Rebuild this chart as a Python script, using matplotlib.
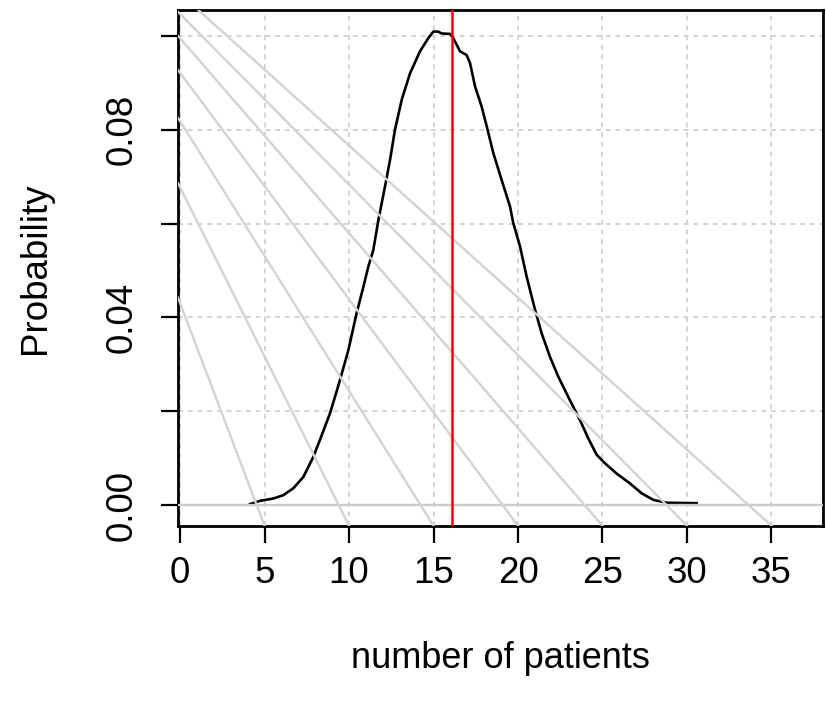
import matplotlib.pyplot as plt
import numpy as np

plt.rcParams['font.family'] = ['Liberation Sans', 'DejaVu Sans']

# distribution of number of patients
n_patients = [4.14, 4.73, 5.52, 6.11, 6.71, 7.30, 7.89, 8.28, 8.88, 9.47,
              9.96, 10.45, 10.85, 11.14, 11.44, 11.74, 12.13, 12.43, 12.72, 13.12,
              13.61, 14.20, 14.69, 14.99, 15.28, 15.48, 15.98, 16.17, 16.57, 16.96,
              17.16, 17.46, 17.85, 18.15, 18.54, 19.03, 19.53, 19.72, 20.12, 20.51,
              21.01, 21.40, 21.89, 22.38, 22.98, 23.67, 24.16, 24.66, 25.15, 25.84,
              26.63, 27.32, 28.01, 28.80, 30.57]
probability = [0.0002, 0.0009, 0.0014, 0.0021, 0.0036, 0.0060, 0.0103, 0.0139, 0.0196, 0.0267,
               0.0330, 0.0409, 0.0465, 0.0508, 0.0544, 0.0608, 0.0679, 0.0736, 0.0800, 0.0864,
               0.0920, 0.0967, 0.0995, 0.1009, 0.1009, 0.1005, 0.1004, 0.0995, 0.0967, 0.0959,
               0.0942, 0.0892, 0.0849, 0.0807, 0.0750, 0.0693, 0.0636, 0.0601, 0.0551, 0.0487,
               0.0416, 0.0366, 0.0316, 0.0274, 0.0230, 0.0181, 0.0142, 0.0107, 0.0089, 0.0067,
               0.0046, 0.0025, 0.0011, 0.0005, 0.0004]
mean_patients = 16.1

# light gray reference lines: where they meet the bottom and the left edge
line_bottom_x = [5, 10, 15, 20, 25, 30, 35]
line_left_y = [0.0442, 0.0686, 0.0825, 0.0927, 0.1000, 0.1051, 0.1094]

x_ticks = [0, 5, 10, 15, 20, 25, 30, 35]
y_ticks = [0.00, 0.02, 0.04, 0.06, 0.08, 0.10]
y_labels = ['0.00', '', '0.04', '', '0.08', '']

xmin, xmax = -0.12, 38.05
ymin, ymax = -0.0044, 0.1055

fig = plt.figure(figsize=(8.26, 7.05), dpi=100)
ax = fig.add_axes([0.2155, 0.2543, 0.7809, 0.7315])
ax.set_xlim(xmin, xmax)
ax.set_ylim(ymin, ymax)

ax.plot(n_patients, probability, color='black', lw=1.9, zorder=2)

for xv in x_ticks:
    ax.axvline(xv, color='#D3D3D3', lw=1.4, ls=(0, (2.5, 2.5)), zorder=1)
for yv in y_ticks:
    ax.axhline(yv, color='#D3D3D3', lw=1.4, ls=(0, (2.5, 2.5)), zorder=1)
ax.axhline(0, color='#CCCCCC', lw=1.7, zorder=3)

for xb, yl in zip(line_bottom_x, line_left_y):
    ax.axline((xb, ymin), (xmin, yl), color='#D3D3D3', lw=1.7, zorder=3)

ax.axvline(mean_patients, color='red', lw=1.8, zorder=4)

ax.set_xticks(x_ticks)
ax.set_xticklabels([str(v) for v in x_ticks])
ax.set_yticks(y_ticks)
ax.set_yticklabels(y_labels, rotation=90, va='center')
ax.tick_params(axis='both', length=12.5, width=1.6, labelsize=26.5, direction='out')
ax.tick_params(axis='x', pad=9)
ax.tick_params(axis='y', pad=15)
for s in ax.spines.values():
    s.set_linewidth(2.0)

ax.set_xlabel('number of patients', fontsize=26, labelpad=36)
ax.set_ylabel('Probability', fontsize=26.5, labelpad=37)

fig.savefig('out.png', dpi=100)
